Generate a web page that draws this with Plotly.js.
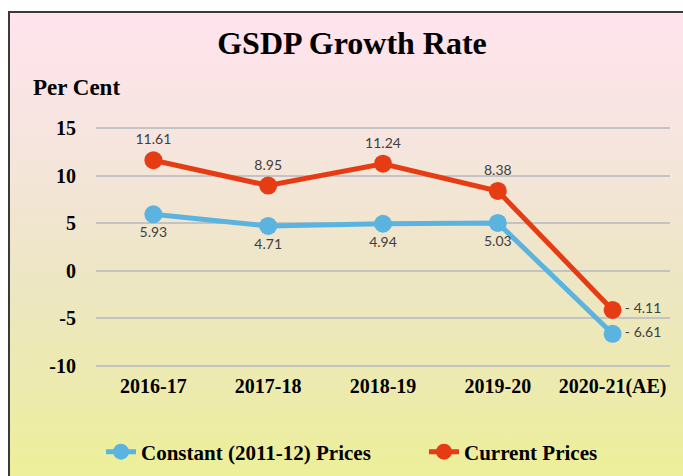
<!DOCTYPE html>
<html>
<head>
<meta charset="utf-8">
<script src="https://cdn.plot.ly/plotly-3.0.1.min.js"></script>
<style>
  html, body { margin: 0; padding: 0; background: #ffffff; }
  #bg {
    position: absolute; left: 8px; top: 11px; width: 690px; height: 480px;
    border-left: 2px solid #3a3a3a; border-top: 2px solid #3a3a3a;
    background: linear-gradient(to bottom, #ffe3ee 0%, #f5e5dc 30%, #ede6c4 55%, #ecebac 80%, #eef095 100%);
  }
  #chart { position: absolute; left: 0; top: 0; width: 683px; height: 476px; }
</style>
</head>
<body>
<div id="bg"></div>
<div id="chart"></div>
<script>
const years = ["2016-17", "2017-18", "2018-19", "2019-20", "2020-21(AE)"];
const constantPrices = [5.93, 4.71, 4.94, 5.03, -6.61];
const currentPrices = [11.61, 8.95, 11.24, 8.38, -4.11];
const yTicks = [-10, -5, 0, 5, 10, 15];

function fmt(v) { return v < 0 ? "- " + Math.abs(v).toFixed(2) : v.toFixed(2); }

const serif = "Times New Roman, Liberation Serif, serif";
const labelFont = { family: "Lato, Open Sans, sans-serif", size: 14, color: "#404040" };
const legendFont = { family: serif, size: 21, color: "#000000" };

const traces = [
  {
    x: years, y: constantPrices, type: "scatter", mode: "lines+markers+text",
    name: "<b>Constant (2011-12) Prices</b>",
    line: { color: "#5bb3e0", width: 5 },
    marker: { color: "#5bb3e0", size: 18 },
    text: constantPrices.map(fmt),
    textposition: constantPrices.map((v, i) => i === constantPrices.length - 1 ? "middle right" : "bottom center"),
    textfont: labelFont,
    cliponaxis: false,
    hoverinfo: "skip",
    legend: "legend"
  },
  {
    x: years, y: currentPrices, type: "scatter", mode: "lines+markers+text",
    name: "<b>Current Prices</b>",
    line: { color: "#e63c14", width: 5 },
    marker: { color: "#e63c14", size: 18 },
    text: currentPrices.map(fmt),
    textposition: currentPrices.map((v, i) => i === currentPrices.length - 1 ? "middle right" : "top center"),
    textfont: labelFont,
    cliponaxis: false,
    hoverinfo: "skip",
    legend: "legend2"
  }
];

const layout = {
  width: 683, height: 476,
  paper_bgcolor: "rgba(0,0,0,0)",
  plot_bgcolor: "rgba(0,0,0,0)",
  margin: { l: 96, r: 13, t: 126, b: 108, autoexpand: false },
  title: {
    text: "<b>GSDP Growth Rate</b>",
    font: { family: serif, size: 32, color: "#000000" },
    x: 352 / 683, xanchor: "center", xref: "container",
    y: 1 - 43 / 476, yanchor: "middle", yref: "container"
  },
  xaxis: {
    type: "category", range: [-0.5, 4.5],
    showgrid: false, zeroline: false, showline: false,
    ticks: "outside", ticklen: 0, tickcolor: "rgba(0,0,0,0)",
    tickfont: { family: serif, size: 20, color: "#000000" },
    tickvals: years, ticktext: years.map(y => "<b>" + y + "</b>")
  },
  yaxis: {
    range: [-10.2, 15.2], tickvals: yTicks, ticktext: yTicks.map(v => "<b>" + v + "</b>"),
    showgrid: true, gridcolor: "#c3c3c3", gridwidth: 2,
    zeroline: true, zerolinecolor: "#c3c3c3", zerolinewidth: 2,
    showline: false,
    ticks: "outside", ticklen: 15, tickcolor: "rgba(0,0,0,0)",
    tickfont: { family: serif, size: 20, color: "#000000" }
  },
  showlegend: true,
  legend: {
    orientation: "h", xref: "container", x: 101 / 683, xanchor: "left",
    yref: "container", y: 1 - 452 / 476, yanchor: "middle",
    font: legendFont, bgcolor: "rgba(0,0,0,0)"
  },
  legend2: {
    orientation: "h", xref: "container", x: 424 / 683, xanchor: "left",
    yref: "container", y: 1 - 452 / 476, yanchor: "middle",
    font: legendFont, bgcolor: "rgba(0,0,0,0)"
  },
  annotations: [
    {
      text: "<b>Per Cent</b>", xref: "paper", yref: "paper",
      x: (31 - 96) / 574, xanchor: "left", y: (368 - 87) / 242, yanchor: "middle",
      showarrow: false, font: { family: serif, size: 23, color: "#000000" }
    }
  ]
};

Plotly.newPlot("chart", traces, layout, { displayModeBar: false, staticPlot: true });
</script>
</body>
</html>
